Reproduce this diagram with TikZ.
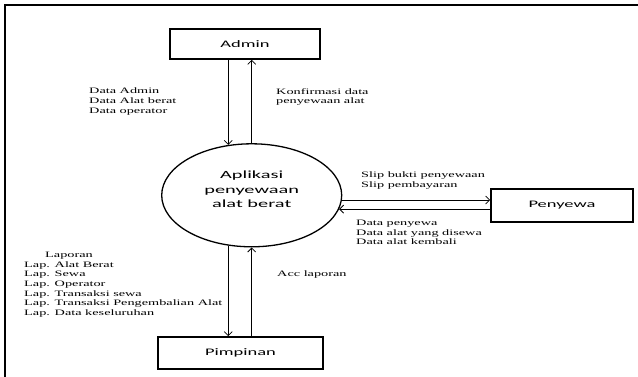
\documentclass[tikz,border=0pt]{standalone}
\usepackage{fontspec}
\setmainfont{Liberation Serif}
\newfontfamily\lblfam{Liberation Serif}[FakeStretch=1.72]
\newfontfamily\boxfam{Carlito}[FakeStretch=1.85]
\newcommand\lblfont{\lblfam\fontsize{8.3}{9.6}\selectfont}
\newcommand\boxfont{\boxfam\fontsize{10}{12}\selectfont}
\newcommand\procfont{\boxfam\fontsize{11}{14.5}\selectfont}
\usepackage{tikz}
\usetikzlibrary{arrows.meta,shapes.geometric,positioning}
\tikzset{>={Straight Barb[length=4pt,width=8pt]}}
\tikzset{
    entity/.style={rectangle,draw,line width=1.6pt,inner sep=0pt,font=\boxfont},
    process/.style={ellipse,draw,line width=1.3pt,inner sep=0pt,minimum width=180,minimum height=103},
    proctext/.style={inner sep=0pt,align=center,font=\procfont},
    flowlabel/.style={inner sep=0pt,anchor=north west,align=left,font=\lblfont},
    flow/.style={->,line width=0.8pt},
}

\begin{document}
\begin{tikzpicture}[x=1pt,y=-1pt]
        \clip (0,0) rectangle (638,376);
        \draw[line width=1.8pt] (5,5) rectangle (700,420);

        \node[entity,minimum width=150,minimum height=30] (admin) at (245,44) {Admin};
        \node[process] (app) at (251.7,195.3) {};
        \node[proctext] (apptext) at ([yshift=6pt]app.center) {Aplikasi\\penyewaan\\alat berat};
        \node[entity,minimum width=142,minimum height=33] (penyewa) at (562,205.5) {Penyewa};
        \node[entity,minimum width=165,minimum height=32] (pimpinan) at (240.5,353) {Pimpinan};

        \draw[flow] (admin.south -| app.115) -- (app.115);
        \draw[flow] (app.north) -- (app.north |- admin.south);
        \draw[flow] (app.-3) -- (app.-3 -| penyewa.west);
        \draw[flow] (app.-9 -| penyewa.west) -- (app.-9);
        \draw[flow] (app.245) -- (app.245 |- pimpinan.north);
        \draw[flow] (pimpinan.north -| app.south) -- (app.south);

        \node[flowlabel] (dataadmin) at (89,88) {Data Admin\\Data Alat berat\\Data operator};
        \node[flowlabel] (konfirmasi) at (276,88) {Konfirmasi data\\penyewaan alat};
        \node[flowlabel] (slip) at (361,172) {Slip bukti penyewaan\\Slip pembayaran};
        \node[flowlabel] (datasewa) at (356,220) {Data penyewa\\Data alat yang disewa\\Data alat kembali};
        \node[flowlabel] (acc) at (277,271) {Acc laporan};
        \node[flowlabel] (laporan) at (24,252) {\hspace*{21pt}Laporan\\Lap. Alat Berat\\Lap. Sewa\\Lap. Operator\\Lap. Transaksi sewa\\Lap. Transaksi Pengembalian Alat\\Lap. Data keseluruhan};
\end{tikzpicture}
\end{document}
